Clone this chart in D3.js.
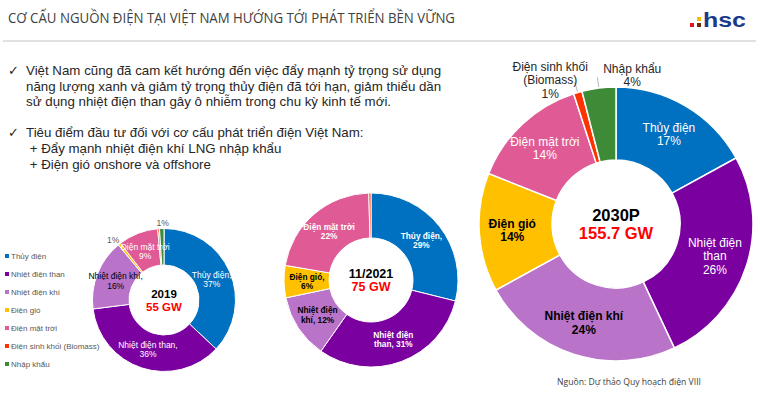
<!DOCTYPE html>
<html>
<head>
<meta charset="utf-8">
<script src="https://cdn.jsdelivr.net/npm/d3@7"></script>
<style>
  body { margin: 0; background: #fff; }
  svg { display: block; }
</style>
</head>
<body>
<script>
// data
const categories = ["Thủy điện", "Nhiệt điện than", "Nhiệt điện khí", "Điện gió", "Điện mặt trời", "Điện sinh khối (Biomass)", "Nhập khẩu"]
const periods = ["2019", "11/2021", "2030P"]
const totals = ["55 GW", "75 GW", "155.7 GW"]
const share2019 = [37, 36, 16, 0.6, 9, 0.4, 1]
const share2021 = [29, 31, 12, 6, 22, 0.4, 0]
const share2030 = [17, 26, 24, 14, 14, 1, 4]
const labels2019 = ["Thủy điện,|37%", "Nhiệt điện than,|36%", "Nhiệt điện khí,|16%", "1%", "Điện mặt trời|9%", "", "1%"]
const labels2021 = ["Thủy điện,|29%", "Nhiệt điện|than, 31%", "Nhiệt điện|khí, 12%", "Điện gió,|6%", "Điện mặt trời|22%", "", ""]
const labels2030 = ["Thủy điện|17%", "Nhiệt điện|than|26%", "Nhiệt điện khí|24%", "Điện gió|14%", "Điện mặt trời|14%", "Điện sinh khối|(Biomass)|1%", "Nhập khẩu|4%"]

const bullets = [
  ["✓", "Việt Nam cũng đã cam kết hướng đến việc đẩy mạnh tỷ trọng sử dụng"],
  ["", "năng lượng xanh và giảm tỷ trọng thủy điện đã tới hạn, giảm thiểu dần"],
  ["", "sử dụng nhiệt điện than gây ô nhiễm trong chu kỳ kinh tế mới."],
  ["", ""],
  ["✓", "Tiêu điểm đầu tư đối với cơ cấu phát triển điện Việt Nam:"],
  ["", " + Đẩy mạnh nhiệt điện khí LNG nhập khẩu"],
  ["", " + Điện gió onshore và offshore"]
]

// styles
const colors = ["#0070c0", "#7a00a0", "#b973c9", "#ffc000", "#e05b95", "#ff3300", "#3d8b37"]
const labelInk = ["#fff", "#fff", "#000", "#000", "#fff", "#000", "#000"]

const w = 760
const h = 394
const font = "'Liberation Sans', Arial, sans-serif"

// layout of the three donuts; nudge = sideways shift of the small outside labels
const charts = [
  { shares: share2019, labels: labels2019, cx: 164, cy: 300, r: 71.5, r0: 35, labelR: 52, outR: 77, small: 2,
    fs: 8.5, lh: 9.5, bold: false, cfs: 11.5, clh: 13, outInk: "#595959", nudge: { 3: -3, 6: 1 } },
  { shares: share2021, labels: labels2021, cx: 371, cy: 280, r: 87, r0: 42, labelR: 64, outR: 95, small: 2,
    fs: 8.3, lh: 9.2, bold: true, cfs: 12.5, clh: 13.5, outInk: "#595959", nudge: {} },
  { shares: share2030, labels: labels2030, cx: 616, cy: 224, r: 137, r0: 64, labelR: 104, outR: 150, small: 5,
    fs: 12, lh: 13.5, bold: false, cfs: 16.5, clh: 18, outInk: "#262626", boldCats: [2, 3], nudge: { 5: -24, 6: 35 } }
]

const svg = d3.select("body").append("svg")
  .attr("width", w)
  .attr("height", h)

// title + rule
svg.append("text")
  .attr("x", 8)
  .attr("y", 23)
  .attr("textLength", 447)
  .attr("lengthAdjust", "spacingAndGlyphs")
  .style("font-family", "'Open Sans', sans-serif")
  .style("font-size", "15px")
  .style("fill", "#404040")
  .text("CƠ CẤU NGUỒN ĐIỆN TẠI VIỆT NAM HƯỚNG TỚI PHÁT TRIỂN BỀN VỮNG")

svg.append("line")
  .attr("x1", 3).attr("x2", 756)
  .attr("y1", 41).attr("y2", 41)
  .style("stroke", "#c4c4c4")
  .style("stroke-width", 1.2)

// logo
const logo = svg.append("g")
logo.append("rect").attr("x", 690).attr("y", 23).attr("width", 4).attr("height", 4).style("fill", "#e8141c")
logo.append("rect").attr("x", 697).attr("y", 17).attr("width", 4).attr("height", 4).style("fill", "#f5c000")
logo.append("rect").attr("x", 697).attr("y", 23).attr("width", 4).attr("height", 4).style("fill", "#6b2a0a")
logo.append("text")
  .attr("x", 703)
  .attr("y", 27)
  .attr("textLength", 43)
  .attr("lengthAdjust", "spacingAndGlyphs")
  .style("font-family", font)
  .style("font-weight", "bold")
  .style("font-size", "20px")
  .style("fill", "#1b3a8a")
  .text("hsc")

// bullet text
const bullet = svg.append("g")
  .style("font-family", font)
  .style("font-size", "13.3px")
  .style("fill", "#262626")
bullets.forEach((b, i) => {
  const y = 75 + i * 15.6
  if (b[0]) bullet.append("text").attr("x", 8).attr("y", y).text(b[0])
  if (b[1]) bullet.append("text").attr("x", 26).attr("y", y).style("white-space", "pre").text(b[1])
})

// legend
const legend = svg.append("g")
  .style("font-family", font)
  .style("font-size", "8px")
  .style("fill", "#595959")
categories.forEach((c, i) => {
  const y = 256 + i * 18
  legend.append("rect").attr("x", 5).attr("y", y - 2).attr("width", 4).attr("height", 4).style("fill", colors[i])
  legend.append("text").attr("x", 11).attr("y", y + 3).text(c)
})

const pie = d3.pie().sort(null).value((d) => d.v)

charts.forEach((c, k) => {
  const rows = c.shares.map((v, i) => ({ v: v, i: i, label: c.labels[i] })).filter((d) => d.v > 0)
  const arcs = pie(rows)
  const arc = d3.arc().innerRadius(c.r0).outerRadius(c.r)
  const labelArc = d3.arc().innerRadius(c.labelR).outerRadius(c.labelR)

  const g = svg.append("g").attr("transform", "translate(" + c.cx + "," + c.cy + ")")

  g.selectAll("path")
    .data(arcs)
    .enter()
    .append("path")
    .attr("d", arc)
    .style("fill", (d) => colors[d.data.i])
    .style("stroke", "#fff")
    .style("stroke-width", k == 2 ? 1.5 : 1)

  arcs.forEach((d) => {
    if (!d.data.label) return
    const lines = d.data.label.split("|")
    const mid = (d.startAngle + d.endAngle) / 2
    let x, y, ink = labelInk[d.data.i]
    const outside = d.data.v < c.small
    if (outside) {
      x = Math.sin(mid) * c.outR + (c.nudge[d.data.i] || 0)
      y = -Math.cos(mid) * c.outR
      ink = c.outInk
      const r1 = c.r + 1
      const r2 = c.outR - 2
      if (r2 - r1 > 3) {
        g.append("line")
          .attr("x1", Math.sin(mid) * r1).attr("y1", -Math.cos(mid) * r1)
          .attr("x2", Math.sin(mid) * r2).attr("y2", -Math.cos(mid) * r2)
          .style("stroke", "#a6a6a6")
          .style("stroke-width", 0.8)
      }
    } else {
      const p = labelArc.centroid(d)
      x = p[0]
      y = p[1]
    }
    const bold = c.bold || (c.boldCats && c.boldCats.includes(d.data.i))
    const t = g.append("text")
      .attr("text-anchor", "middle")
      .style("font-family", font)
      .style("font-size", c.fs + "px")
      .style("font-weight", bold && !outside ? "bold" : "normal")
      .style("fill", ink)
    lines.forEach((ln, j) => {
      t.append("tspan")
        .attr("x", x)
        .attr("y", y + (j - (lines.length - 1) / 2) * c.lh + c.fs * 0.35)
        .text(ln)
    })
  })

  // centre text
  g.append("text")
    .attr("text-anchor", "middle")
    .attr("y", -c.clh / 2 + c.cfs * 0.35)
    .style("font-family", font)
    .style("font-weight", "bold")
    .style("font-size", c.cfs + "px")
    .style("fill", "#000")
    .text(periods[k])
  g.append("text")
    .attr("text-anchor", "middle")
    .attr("y", c.clh / 2 + c.cfs * 0.35)
    .style("font-family", font)
    .style("font-weight", "bold")
    .style("font-size", c.cfs + "px")
    .style("fill", "#ff0000")
    .text(totals[k])
})

svg.append("text")
  .attr("x", 557)
  .attr("y", 385)
  .attr("textLength", 144)
  .attr("lengthAdjust", "spacingAndGlyphs")
  .style("font-family", "'Open Sans', sans-serif")
  .style("font-size", "9px")
  .style("fill", "#404040")
  .text("Nguồn: Dự thảo Quy hoạch điện VIII")
</script>
</body>
</html>
